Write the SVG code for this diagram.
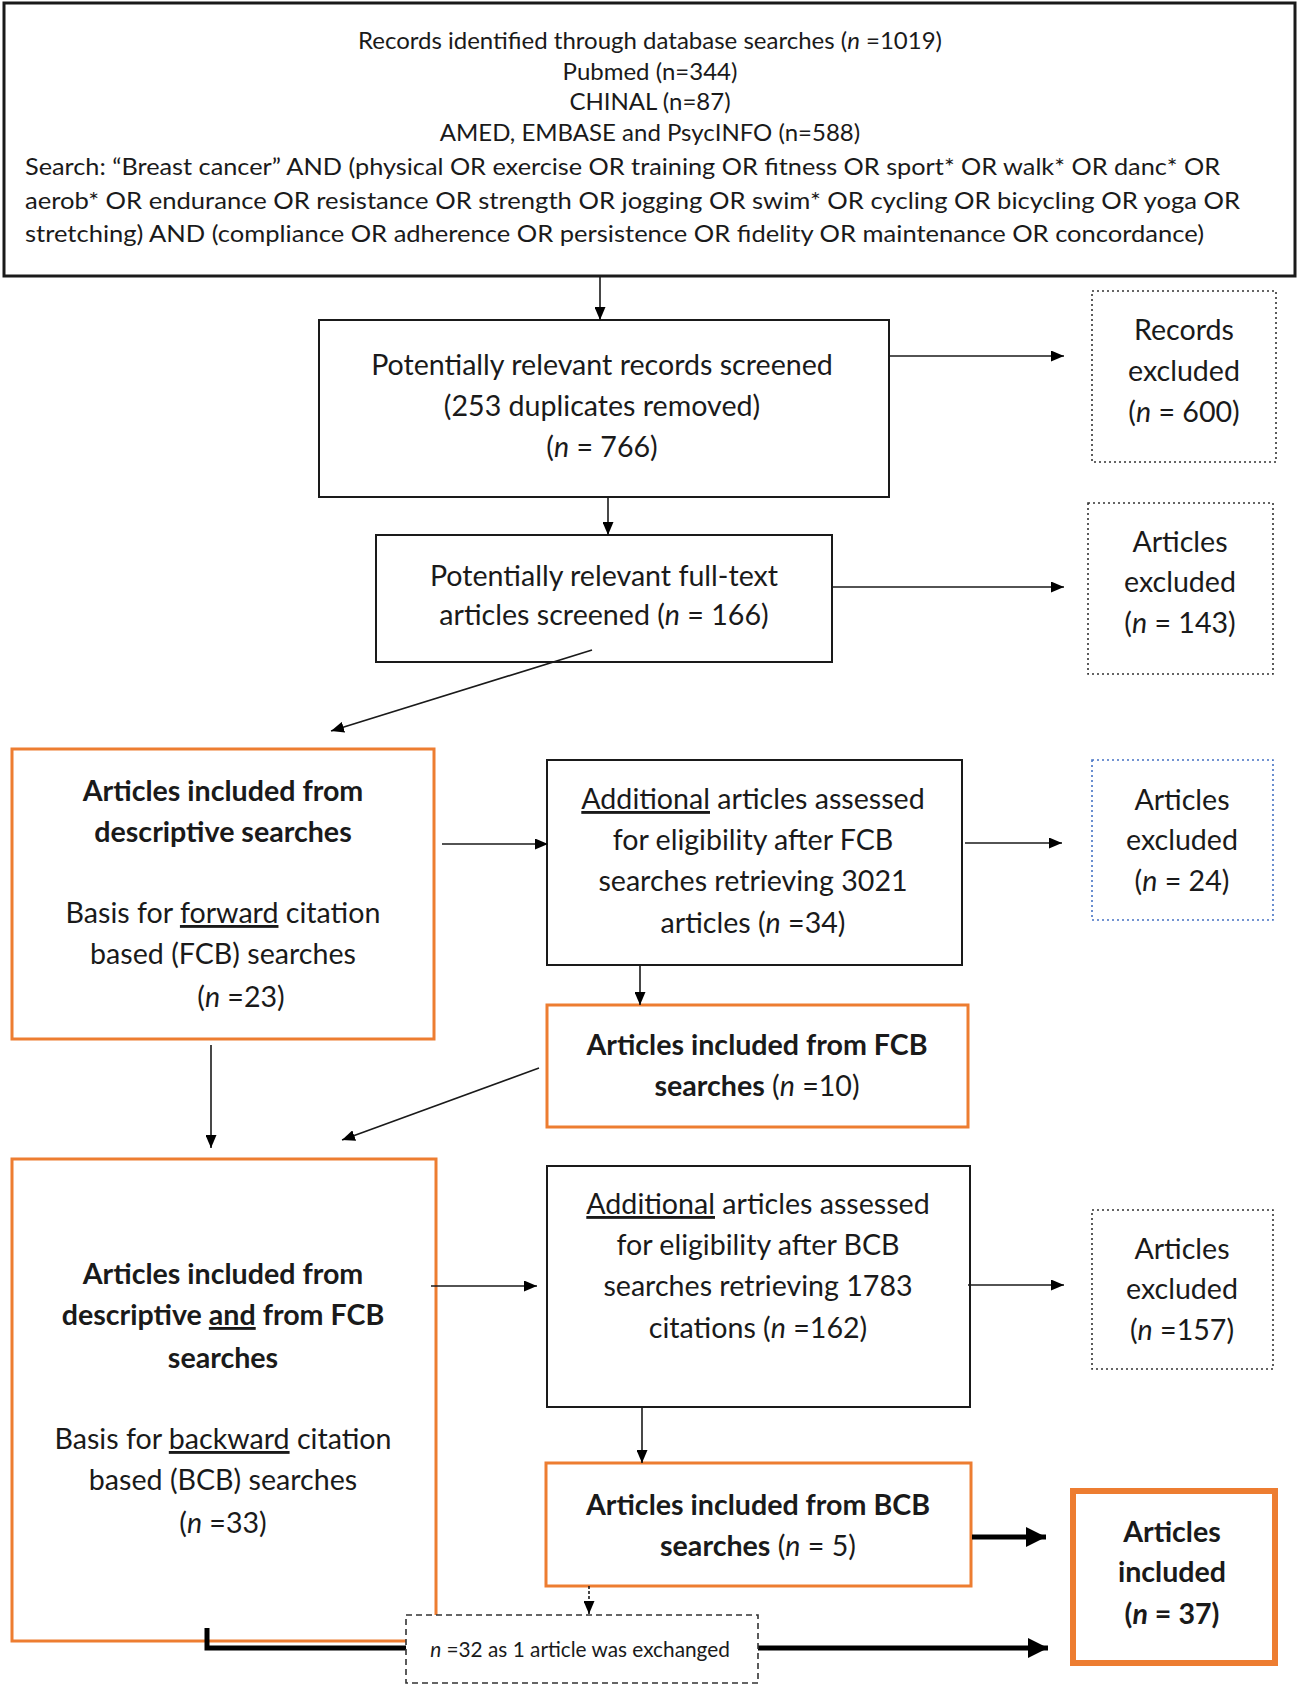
<svg xmlns="http://www.w3.org/2000/svg" width="1300" height="1686" viewBox="0 0 1300 1686">
<style>
text{font-family:Lato,"Open Sans","Liberation Sans",sans-serif;fill:#1a1a1a;text-anchor:middle}
.t{font-size:24px}
.m{font-size:28.6px}
.b{font-weight:bold}
.s{font-size:20.8px}
.i{font-style:italic}
.u{text-decoration:underline}
.box{fill:#fff;stroke:#1a1a1a;stroke-width:2}
.or{fill:#fff;stroke:#ED7D31;stroke-width:3}
.dot{fill:#fff;stroke:#333;stroke-width:1.6;stroke-dasharray:2 3}
.bdot{fill:#fff;stroke:#4472C4;stroke-width:1.6;stroke-dasharray:2 3}
.ln{fill:none;stroke:#1a1a1a;stroke-width:1.6}
.thk{fill:none;stroke:#000;stroke-width:5}
</style>
<defs>
<marker id="a" markerUnits="userSpaceOnUse" markerWidth="13" markerHeight="11" refX="13" refY="5.5" orient="auto"><path d="M0,0 L13,5.5 L0,11 z" fill="#000"/></marker>
<marker id="A" markerUnits="userSpaceOnUse" markerWidth="20" markerHeight="20" refX="20" refY="10" orient="auto"><path d="M0,0 L20,10 L0,20 z" fill="#000"/></marker>
</defs>
<g id="top"><rect class="box" x="4" y="3" width="1291" height="273" style="stroke-width:3"/>
<text class="t" x="650" y="49">Records identified through database searches (<tspan class="i">n</tspan> =1019)</text>
<text class="t" x="650" y="80">Pubmed (n=344)</text>
<text class="t" x="650" y="110">CHINAL (n=87)</text>
<text class="t" x="650" y="141">AMED, EMBASE and PsycINFO (n=588)</text>
<text class="t" x="25" y="175" style="text-anchor:start" textLength="1195" lengthAdjust="spacingAndGlyphs">Search: “Breast cancer” AND (physical OR exercise OR training OR fitness OR sport* OR walk* OR danc* OR</text>
<text class="t" x="25" y="209" style="text-anchor:start" textLength="1215" lengthAdjust="spacingAndGlyphs">aerob* OR endurance OR resistance OR strength OR jogging OR swim* OR cycling OR bicycling OR yoga OR</text>
<text class="t" x="25" y="242" style="text-anchor:start" textLength="1179" lengthAdjust="spacingAndGlyphs">stretching) AND (compliance OR adherence OR persistence OR fidelity OR maintenance OR concordance)</text>
</g>
<g id="screened"><rect class="box" x="319" y="320" width="570" height="177"/>
<text class="m" x="602" y="375">Potentially  relevant records screened</text>
<text class="m" x="602" y="416">(253 duplicates  removed)</text>
<text class="m" x="602" y="457">(<tspan class="i">n</tspan> = 766)</text>
</g>
<g id="excl600"><rect class="dot" x="1092" y="291" width="184" height="171"/>
<text class="m" x="1184" y="340">Records</text>
<text class="m" x="1184" y="381">excluded</text>
<text class="m" x="1184" y="422">(<tspan class="i">n</tspan> = 600)</text>
</g>
<g id="fulltext"><rect class="box" x="376" y="535" width="456" height="127"/>
<text class="m" x="604" y="586">Potentially  relevant full-text</text>
<text class="m" x="604" y="625">articles screened (<tspan class="i">n</tspan> = 166)</text>
</g>
<g id="excl143"><rect class="dot" x="1088" y="503" width="185" height="171"/>
<text class="m" x="1180" y="552">Articles</text>
<text class="m" x="1180" y="592">excluded</text>
<text class="m" x="1180" y="633">(<tspan class="i">n</tspan> = 143)</text>
</g>
<g id="descriptive"><rect class="or" x="12" y="749" width="422" height="290"/>
<text class="m b" x="223" y="801">Articles included from</text>
<text class="m b" x="223" y="842">descriptive searches</text>
<text class="m" x="223" y="923">Basis for <tspan class="u">forward</tspan> citation</text>
<text class="m" x="223" y="964">based  (FCB) searches</text>
<text class="m" x="241" y="1007">(<tspan class="i">n</tspan> =23)</text>
</g>
<g id="fcbassessed"><rect class="box" x="547" y="760" width="415" height="205"/>
<text class="m" x="753" y="809"><tspan class="u">Additional</tspan> articles assessed</text>
<text class="m" x="753" y="850">for eligibility after FCB</text>
<text class="m" x="753" y="891">searches retrieving 3021</text>
<text class="m" x="753" y="933">articles (<tspan class="i">n</tspan> =34)</text>
</g>
<g id="excl24"><rect class="bdot" x="1092" y="760" width="181" height="160"/>
<text class="m" x="1182" y="810">Articles</text>
<text class="m" x="1182" y="850">excluded</text>
<text class="m" x="1182" y="891">(<tspan class="i">n</tspan> = 24)</text>
</g>
<g id="fcbincluded"><rect class="or" x="547" y="1005" width="421" height="122"/>
<text class="m b" x="757" y="1055">Articles included from FCB</text>
<text class="m" x="757" y="1096"><tspan class="b">searches</tspan> (<tspan class="i">n</tspan> =10)</text>
</g>
<g id="descfcb"><rect class="or" x="12" y="1159" width="424" height="482"/>
<text class="m b" x="223" y="1284">Articles included from</text>
<text class="m b" x="223" y="1325">descriptive <tspan class="u">and</tspan> from FCB</text>
<text class="m b" x="223" y="1368">searches</text>
<text class="m" x="223" y="1449">Basis for <tspan class="u">backward</tspan> citation</text>
<text class="m" x="223" y="1490">based  (BCB) searches</text>
<text class="m" x="223" y="1533">(<tspan class="i">n</tspan> =33)</text>
</g>
<g id="bcbassessed"><rect class="box" x="547" y="1166" width="423" height="241"/>
<text class="m" x="758" y="1214"><tspan class="u">Additional</tspan> articles assessed</text>
<text class="m" x="758" y="1255">for eligibility after BCB</text>
<text class="m" x="758" y="1296">searches retrieving 1783</text>
<text class="m" x="758" y="1338">citations (<tspan class="i">n</tspan> =162)</text>
</g>
<g id="excl157"><rect class="dot" x="1092" y="1210" width="181" height="159"/>
<text class="m" x="1182" y="1259">Articles</text>
<text class="m" x="1182" y="1299">excluded</text>
<text class="m" x="1182" y="1340">(<tspan class="i">n</tspan> =157)</text>
</g>
<g id="bcbincluded"><rect class="or" x="546" y="1463" width="425" height="123"/>
<text class="m b" x="758" y="1515">Articles included from BCB</text>
<text class="m" x="758" y="1556"><tspan class="b">searches</tspan> (<tspan class="i">n</tspan> = 5)</text>
</g>
<g id="included"><rect class="or" x="1073" y="1491" width="202" height="172" style="stroke-width:6"/>
<text class="m b" x="1172" y="1542">Articles</text>
<text class="m b" x="1172" y="1582">included</text>
<text class="m b" x="1172" y="1624">(<tspan class="i">n</tspan> = 37)</text>
</g>
<g id="connectors">
<line class="ln" x1="600" y1="276" x2="600" y2="320" marker-end="url(#a)"/>
<line class="ln" x1="889" y1="356" x2="1064" y2="356" marker-end="url(#a)"/>
<line class="ln" x1="608" y1="497" x2="608" y2="535" marker-end="url(#a)"/>
<line class="ln" x1="832" y1="587" x2="1064" y2="587" marker-end="url(#a)"/>
<line class="ln" x1="592" y1="650" x2="331" y2="731" marker-end="url(#a)"/>
<line class="ln" x1="442" y1="844" x2="548" y2="844" marker-end="url(#a)"/>
<line class="ln" x1="965" y1="843" x2="1062" y2="843" marker-end="url(#a)"/>
<line class="ln" x1="640" y1="965" x2="640" y2="1005" marker-end="url(#a)"/>
<line class="ln" x1="211" y1="1045" x2="211" y2="1148" marker-end="url(#a)"/>
<line class="ln" x1="539" y1="1068" x2="342" y2="1140" marker-end="url(#a)"/>
<line class="ln" x1="431" y1="1286" x2="537" y2="1286" marker-end="url(#a)"/>
<line class="ln" x1="968" y1="1285" x2="1064" y2="1285" marker-end="url(#a)"/>
<line class="ln" x1="642" y1="1407" x2="642" y2="1463" marker-end="url(#a)"/>
<line class="ln" x1="589" y1="1586" x2="589" y2="1614" style="stroke-dasharray:3 2" marker-end="url(#a)"/>
<line class="thk" x1="972" y1="1537" x2="1046" y2="1537" marker-end="url(#A)"/>
<polyline class="thk" points="207,1628 207,1648 408,1648"/>
<line class="thk" x1="758" y1="1648" x2="1048" y2="1648" marker-end="url(#A)"/>
</g>
<g id="exchanged"><rect class="dot" x="406" y="1615" width="352" height="68" style="stroke-dasharray:6 4"/>
<text class="s" x="580" y="1657"><tspan class="i">n</tspan> =32 as 1 article was exchanged</text>
</g>
</svg>
